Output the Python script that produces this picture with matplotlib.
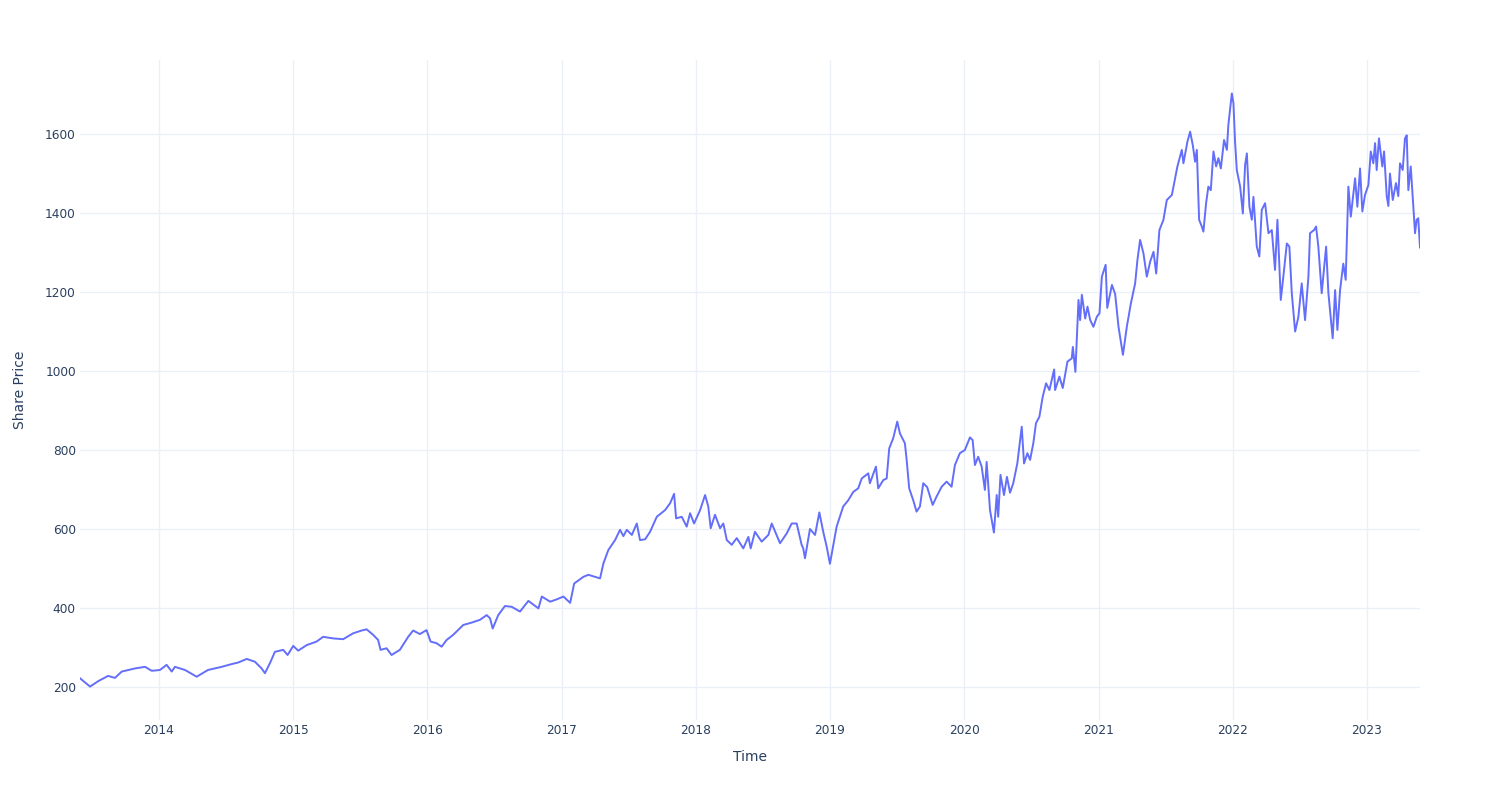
import matplotlib
matplotlib.use("Agg")
import matplotlib.pyplot as plt
import pandas as pd
import numpy as np

# Time expressed as fractional years
t_years = [
    2013.411, 2013.486, 2013.548, 2013.620, 2013.672, 2013.722, 2013.821, 2013.896, 2013.946,
    2014.007, 2014.057, 2014.095, 2014.119, 2014.194, 2014.281, 2014.365, 2014.467, 2014.542,
    2014.591, 2014.654, 2014.715, 2014.765, 2014.790, 2014.827, 2014.864, 2014.926, 2014.959,
    2015.001, 2015.038, 2015.101, 2015.175, 2015.224, 2015.299, 2015.373, 2015.448, 2015.511,
    2015.548, 2015.597, 2015.634, 2015.652, 2015.697, 2015.734, 2015.796, 2015.858, 2015.895,
    2015.945, 2015.995, 2016.025, 2016.069, 2016.107, 2016.144, 2016.193, 2016.268, 2016.330,
    2016.392, 2016.442, 2016.467, 2016.487, 2016.528, 2016.578, 2016.628, 2016.690, 2016.752,
    2016.827, 2016.852, 2016.914, 2016.964, 2017.013, 2017.063, 2017.093, 2017.162, 2017.199,
    2017.286, 2017.311, 2017.348, 2017.398, 2017.435, 2017.460, 2017.485, 2017.523, 2017.560,
    2017.584, 2017.622, 2017.659, 2017.709, 2017.771, 2017.808, 2017.838, 2017.853, 2017.895,
    2017.932, 2017.957, 2017.987, 2018.032, 2018.069, 2018.093, 2018.111, 2018.143, 2018.181,
    2018.205, 2018.231, 2018.268, 2018.305, 2018.354, 2018.392, 2018.409, 2018.441, 2018.491,
    2018.541, 2018.566, 2018.628, 2018.678, 2018.715, 2018.752, 2018.789, 2018.801, 2018.814,
    2018.851, 2018.889, 2018.921, 2018.950, 2018.976, 2019.000, 2019.050, 2019.099, 2019.137,
    2019.174, 2019.211, 2019.237, 2019.286, 2019.298, 2019.343, 2019.360, 2019.398, 2019.423,
    2019.442, 2019.472, 2019.502, 2019.522, 2019.559, 2019.572, 2019.591, 2019.621, 2019.646,
    2019.671, 2019.696, 2019.725, 2019.766, 2019.795, 2019.833, 2019.870, 2019.907, 2019.932,
    2019.969, 2020.006, 2020.044, 2020.064, 2020.081, 2020.105, 2020.131, 2020.155, 2020.168,
    2020.193, 2020.222, 2020.243, 2020.254, 2020.271, 2020.297, 2020.319, 2020.342, 2020.366,
    2020.396, 2020.429, 2020.446, 2020.471, 2020.491, 2020.515, 2020.535, 2020.560, 2020.585,
    2020.610, 2020.635, 2020.670, 2020.677, 2020.709, 2020.734, 2020.769, 2020.801, 2020.809,
    2020.828, 2020.851, 2020.863, 2020.876, 2020.901, 2020.918, 2020.938, 2020.962, 2020.988,
    2021.007, 2021.025, 2021.053, 2021.065, 2021.100, 2021.124, 2021.149, 2021.182, 2021.211,
    2021.241, 2021.273, 2021.290, 2021.310, 2021.335, 2021.360, 2021.385, 2021.410, 2021.430,
    2021.454, 2021.484, 2021.509, 2021.547, 2021.564, 2021.588, 2021.621, 2021.633, 2021.663,
    2021.683, 2021.703, 2021.720, 2021.733, 2021.750, 2021.770, 2021.782, 2021.802, 2021.819,
    2021.837, 2021.857, 2021.877, 2021.894, 2021.912, 2021.936, 2021.957, 2021.968, 2021.994,
    2022.006, 2022.018, 2022.031, 2022.056, 2022.076, 2022.093, 2022.106, 2022.125, 2022.143,
    2022.155, 2022.180, 2022.199, 2022.217, 2022.242, 2022.267, 2022.292, 2022.316, 2022.334,
    2022.359, 2022.378, 2022.404, 2022.423, 2022.441, 2022.466, 2022.490, 2022.515, 2022.540,
    2022.565, 2022.577, 2022.607, 2022.622, 2022.639, 2022.664, 2022.697, 2022.714, 2022.746,
    2022.764, 2022.781, 2022.801, 2022.825, 2022.843, 2022.863, 2022.881, 2022.913, 2022.930,
    2022.950, 2022.967, 2022.987, 2023.012, 2023.030, 2023.049, 2023.062, 2023.074, 2023.091,
    2023.116, 2023.129, 2023.149, 2023.161, 2023.173, 2023.194, 2023.218, 2023.235, 2023.248,
    2023.268, 2023.285, 2023.298, 2023.310, 2023.328, 2023.347, 2023.360, 2023.372, 2023.384,
    2023.397,
]

share_price = [
    222, 201, 215, 228, 223, 239, 247, 251, 241,
    243, 256, 239, 251, 243, 226, 243, 251, 258,
    262, 271, 264, 247, 235, 260, 289, 294, 281,
    304, 292, 306, 315, 327, 323, 321, 336, 343,
    346, 332, 319, 294, 298, 281, 294, 327, 343,
    334, 344, 315, 311, 302, 319, 332, 357, 363,
    370, 382, 374, 348, 382, 405, 403, 391, 418,
    399, 429, 416, 422, 429, 413, 462, 479, 484,
    475, 513, 547, 572, 598, 582, 598, 585, 614,
    572, 574, 593, 631, 648, 665, 689, 627, 631,
    606, 640, 614, 648, 686, 657, 602, 636, 602,
    614, 572, 560, 577, 551, 580, 551, 593, 568,
    585, 614, 564, 589, 614, 614, 560, 551, 526,
    600, 585, 642, 593, 555, 512, 606, 657, 673,
    694, 703, 728, 741, 716, 758, 703, 724, 728,
    804, 830, 872, 842, 817, 775, 703, 673, 644,
    657, 716, 706, 661, 682, 707, 720, 707, 762,
    792, 800, 832, 825, 762, 783, 758, 699, 770,
    648, 591, 686, 631, 737, 686, 732, 692, 716,
    766, 859, 766, 792, 775, 817, 868, 884, 935,
    969, 952, 1004, 952, 986, 957, 1024, 1032, 1061,
    998, 1180, 1129, 1193, 1133, 1163, 1129, 1112, 1138,
    1146, 1239, 1269, 1160, 1218, 1195, 1112, 1041, 1112,
    1171, 1222, 1281, 1332, 1298, 1239, 1277, 1302, 1247,
    1357, 1383, 1433, 1446, 1476, 1518, 1560, 1526, 1581,
    1606, 1572, 1530, 1560, 1383, 1366, 1353, 1425, 1467,
    1458, 1556, 1518, 1539, 1513, 1585, 1560, 1623, 1703,
    1678, 1581, 1509, 1467, 1399, 1522, 1551, 1416, 1383,
    1441, 1315, 1290, 1408, 1425, 1349, 1357, 1256, 1383,
    1180, 1239, 1323, 1315, 1197, 1100, 1137, 1222, 1129,
    1239, 1349, 1357, 1366, 1315, 1197, 1315, 1197, 1083,
    1205, 1104, 1205, 1272, 1231, 1467, 1391, 1488, 1416,
    1513, 1404, 1446, 1471, 1556, 1526, 1577, 1509, 1589,
    1518, 1556, 1443, 1418, 1500, 1433, 1476, 1443, 1526,
    1509, 1589, 1597, 1458, 1518, 1416, 1349, 1383, 1387,
    1313,
]

y_ticks = [200, 400, 600, 800, 1000, 1200, 1400, 1600]
x_tick_years = [2014, 2015, 2016, 2017, 2018, 2019, 2020, 2021, 2022, 2023]
x_title = "Time"
y_title = "Share Price"


def frac_year_to_date(ty):
    y = int(np.floor(ty))
    start = pd.Timestamp(year=y, month=1, day=1)
    end = pd.Timestamp(year=y + 1, month=1, day=1)
    return start + (end - start) * (ty - y)


dates = [frac_year_to_date(t) for t in t_years]

plt.rcParams['font.family'] = ['DejaVu Sans']
text_color = '#2a3f5f'
grid_color = '#EBF0F8'

fig = plt.figure(figsize=(15, 8), dpi=100)
ax = fig.add_axes([80 / 1500, 1 - 720 / 800, 1340 / 1500, 660 / 800])

ax.plot(dates, share_price, color='#636efa', linewidth=1.4, solid_joinstyle='round')

ax.set_xlim(dates[0], dates[-1])
ax.set_ylim(116.4, 1787.6)

ax.set_yticks(y_ticks)
ax.set_yticklabels([str(v) for v in y_ticks])
ax.set_xticks([pd.Timestamp(year=y, month=1, day=1) for y in x_tick_years])
ax.set_xticklabels([str(y) for y in x_tick_years])

ax.grid(True, color=grid_color, linewidth=1.0)
ax.set_axisbelow(True)
for s in ax.spines.values():
    s.set_visible(False)
ax.tick_params(axis='both', length=0, labelsize=8.7, colors=text_color, pad=3)

ax.set_xlabel(x_title, fontsize=10, color=text_color, labelpad=9)
ax.set_ylabel(y_title, fontsize=10, color=text_color, labelpad=13)

fig.savefig("out.png", dpi=100, facecolor='white')
